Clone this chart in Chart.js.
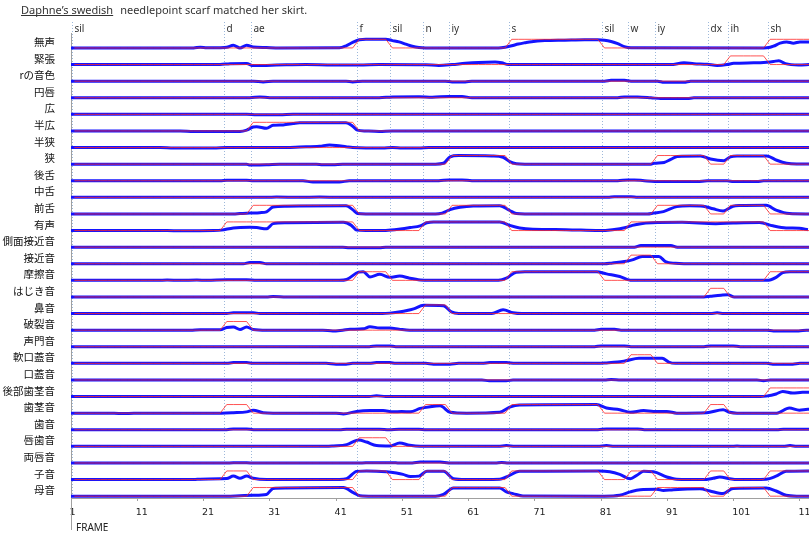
<!DOCTYPE html>
<html>
<head>
<meta charset="utf-8">
<script src="https://cdn.jsdelivr.net/npm/chart.js@4.4.1/dist/chart.umd.min.js"></script>
<style>
  html, body { margin: 0; padding: 0; background: #fff; overflow: hidden; }
  canvas { display: block; }
</style>
</head>
<body>
<canvas id="chart" width="809" height="535"></canvas>
<script>
// phonetic feature tracks for "Daphne's swedish needlepoint scarf matched her skirt."

const rowNames = ["無声", "緊張", "rの音色", "円唇", "広", "半広", "半狭", "狭", "後舌", "中舌",
  "前舌", "有声", "側面接近音", "接近音", "摩擦音", "はじき音", "鼻音", "破裂音", "声門音", "軟口蓋音",
  "口蓋音", "後部歯茎音", "歯茎音", "歯音", "唇歯音", "両唇音", "子音", "母音"];

// phoneme segments: label and first frame
const phonemes = ["sil", "d", "ae", "f", "sil", "n", "iy", "s", "sil", "w", "iy", "dx", "ih", "sh"];
const phonemeStart = [1, 24, 28, 44, 49, 54, 58, 67, 81, 85, 89, 97, 100, 106];
const lastFrame = 112;
const xTicks = [1, 11, 21, 31, 41, 51, 61, 71, 81, 91, 101, 111];

// target (red): phoneme indices where the feature is on, per row
const targetOn = [
  [3, 7, 13],          // 無声
  [12],                // 緊張
  [], [], [],          // rの音色 円唇 広
  [2],                 // 半広
  [],                  // 半狭
  [6, 10, 12],         // 狭
  [], [],              // 後舌 中舌
  [2, 6, 10, 12],      // 前舌
  [1, 2, 5, 6, 9, 10, 11, 12], // 有声
  [],                  // 側面接近音
  [9],                 // 接近音
  [3, 7, 13],          // 摩擦音
  [11],                // はじき音
  [5],                 // 鼻音
  [1],                 // 破裂音
  [],                  // 声門音
  [9],                 // 軟口蓋音
  [],                  // 口蓋音
  [13],                // 後部歯茎音
  [1, 5, 7, 11],       // 歯茎音
  [],                  // 歯音
  [3],                 // 唇歯音
  [],                  // 両唇音
  [1, 3, 5, 7, 9, 11, 13], // 子音
  [2, 6, 10, 12]       // 母音
];

// network output (blue), [frame, value]
const pred0 = [[0.5,0],[19,0],[20,0.08],[21,0.02],[23,0.03],[24,0.08],[25,0.3],[26,0],[27,0.3],[28,0.12],[30,0.05],[32,0],[41,0.02],[42,0.25],[43,0.65],[44,0.95],[45,1],[48,1],[49,0.85],[50,0.7],[51,0.45],[52,0.2],[53,0.05],[54,0],[65,0],[66,0.08],[67,0.25],[68,0.45],[69,0.6],[70,0.73],[72,0.85],[75,0.9],[78,0.95],[80,0.95],[81,0.9],[82,0.75],[83,0.5],[84,0.15],[85,0.02],[105,0],[106,0.08],[106.5,0.2],[107.5,0.55],[108.5,0.7],[109.5,0.55],[110.5,0.7],[112,0.68]]; // 無声
const pred1 = [[0.5,0],[23,0],[24.5,0.1],[27,0.12],[28,-0.12],[30,-0.1],[33,-0.03],[36,0],[40,-0.04],[44,-0.04],[47,0],[54,-0.03],[56,-0.1],[58,0],[60,0.15],[62,0.25],[64.5,0.3],[65.5,0.2],[66.5,0],[91,0],[93,0.2],[94.5,0.1],[96.5,0.03],[98,-0.1],[99.5,0],[100.5,0.15],[103.5,0.2],[105.5,0.27],[106.5,0.35],[107.3,0.45],[108.3,0.1],[110.3,-0.05],[112,0]]; // 緊張
const pred2 = [[0.5,0],[28,0],[29.5,-0.1],[31,0],[42,0],[43,-0.1],[44.5,0],[57,0],[58,-0.1],[60,-0.1],[61,0],[81,0],[82,0.1],[84,0.1],[85,0],[89,0],[90,-0.13],[93,-0.13],[94,0],[112,0]]; // rの音色
const pred3 = [[0.5,0],[27.5,0],[29,0.1],[30.5,0],[47,0],[49,0.1],[53,0.12],[55,0.06],[57.5,0.15],[59.5,0.15],[61,0],[83,0],[84,0.1],[86,0.1],[88,0],[89.5,-0.1],[93.5,-0.1],[94.5,0],[112,0]]; // 円唇
const pred4 = [[0.5,0],[27,0],[28.5,-0.06],[32,-0.06],[34,0],[112,0]]; // 広
const pred5 = [[0.5,0],[17,0],[19,-0.05],[26,-0.05],[27,0.1],[28,0.45],[28.5,0.5],[30,0.3],[31,0.65],[32.5,0.7],[34,0.85],[35,0.95],[42,0.95],[43,0.55],[43.7,0.1],[45,0],[47,-0.05],[49,0],[112,0]]; // 半広
const pred6 = [[0.5,0],[14,0],[16,-0.05],[22,-0.05],[24,0],[33,0],[35,0.06],[38,0.15],[39.5,0.3],[40.5,0.25],[42,0.1],[43,0],[45,-0.05],[47.5,-0.05],[49,0],[50.5,-0.05],[53,-0.05],[54.5,0],[112,0]]; // 半狭
const pred7 = [[0.5,0],[27,0],[27.5,-0.1],[30,-0.08],[32,0],[37.5,0],[38.5,-0.08],[40,-0.08],[41.5,0],[55.5,0],[56.7,0.1],[57.7,0.85],[59,1],[64,0.95],[65.7,0.8],[66.7,0.3],[67.7,0.05],[69,0],[88,0],[88.5,0.1],[90,0.2],[91,0.55],[92,0.9],[95.5,0.95],[97,0.6],[99,0.4],[100,0.85],[101,0.95],[105.5,0.95],[107,0.45],[108.5,0.1],[110,0.02],[112,0.03]]; // 狭
const pred8 = [[0.5,0],[23,0],[24,0.05],[27,0.05],[28,0],[35.5,0],[37,-0.15],[41,-0.15],[42.5,0],[56,0],[57.5,0.1],[59.5,0.1],[61,0],[83,0],[84.5,0.1],[85.5,0.1],[87,0],[89.5,-0.1],[95,-0.1],[96.5,0],[99.5,0],[100.5,-0.1],[104,-0.1],[105,0],[112,0]]; // 後舌
const pred9 = [[0.5,0],[30,0],[31.5,0.05],[35,0],[38,0.05],[41,0],[81.5,0],[82.5,0.07],[85,0.07],[86,0],[112,0]]; // 中舌
const pred10 = [[0.5,0],[25,0],[26,0.05],[27.5,0.1],[29,0.15],[30,0.25],[31,0.8],[33,0.9],[42,0.95],[43,0.5],[43.7,0.05],[45,0],[55.5,0],[56.5,0.1],[57.7,0.5],[59.2,0.77],[61.2,0.92],[65.2,0.95],[66.7,0.4],[67.7,0.05],[69,0],[87.5,0],[88.4,0.1],[89.9,0.27],[91.9,0.85],[93.9,0.95],[95.9,0.9],[97.4,0.6],[98.9,0.35],[100.4,0.9],[101.5,0.97],[105.4,1],[106.9,0.45],[108.9,0.05],[112,0]]; // 前舌
const pred11 = [[0.5,0],[15,0],[17,-0.03],[22,0],[23.2,0.05],[25,0.3],[27.5,0.37],[28.5,0.35],[30,0.2],[31,0.8],[33,0.9],[41.6,0.95],[42.8,0.6],[43.6,0.05],[45,0],[48,0.02],[50.2,0.18],[51.7,0.35],[53.2,0.55],[54.2,0.9],[55.2,1],[65.2,1],[66.7,0.6],[68.2,0.3],[70.2,0.15],[75.2,0.1],[80.2,0],[82.2,0.1],[84.2,0.35],[85.2,0.6],[86.5,0.8],[88.2,0.9],[92.7,0.95],[97.8,0.8],[100.4,0.87],[104.4,0.93],[106.4,0.55],[108.4,0.3],[110.4,0.27],[111.7,0.1]]; // 有声
const pred12 = [[0.5,0],[41.5,0],[42.5,-0.08],[47,-0.08],[48,0],[85.5,0],[86.5,0.18],[91,0.18],[92,0],[112,0]]; // 側面接近音
const pred13 = [[0.5,0],[26.5,0],[27.5,0.15],[29,0.15],[30,0],[81,0],[82.2,0.1],[84,0.25],[85.2,0.45],[86.7,0.85],[89.2,0.85],[90.2,0.25],[91.7,0.05],[93,0],[112,0]]; // 接近音
const pred14 = [[0.5,0],[13.5,0],[15,0.05],[17,0],[19.5,0.05],[21,0],[24,0.07],[27,0.07],[28.5,0],[41,0],[42.1,0.1],[43.9,0.95],[44.6,1],[45.6,0.4],[47.1,0.7],[48.6,0.35],[50.1,0.5],[51.6,0.25],[53.2,0.05],[54.5,0],[65,0],[66.2,0.25],[67.7,0.95],[69,1],[79.8,1],[81.3,0.75],[83.3,0.45],[84.9,0.02],[105.5,0],[106.9,0.35],[107.9,0.9],[109,1],[112,1]]; // 摩擦音
const pred15 = [[0.5,0],[30,0],[31,0.04],[33,0],[96,0],[97,0.08],[98.6,0.2],[99.6,0.25],[100.6,0],[112,0]]; // はじき音
const pred16 = [[0.5,0],[24,0],[25,0.1],[28,0.1],[29,0],[47.5,0],[48.6,0.05],[50.2,0.2],[51.2,0.35],[52.2,0.55],[53.7,0.95],[56.7,0.9],[57.9,0.2],[59,0.02],[64,0],[65.7,0.45],[67.2,0.1],[68.5,0],[97,0],[98,0.08],[99,0],[112,0]]; // 鼻音
const pred17 = [[0.5,0],[18.5,0],[20,0.05],[23,0.05],[24,0.3],[25,0.36],[26,0.08],[27,0.38],[28,0.08],[30,0],[38.5,0],[40,-0.1],[41.5,0],[42.6,0.1],[44.6,0.15],[45.6,0.4],[47.1,0.25],[48.6,0.25],[50,0.12],[51.6,0],[79.5,0],[80.5,0.1],[82.5,0.1],[83.5,0],[105.5,0],[106.5,-0.1],[110.3,-0.1],[111.5,0],[112,0]]; // 破裂音
const pred18 = [[0.5,0],[45.5,0],[46.6,0.1],[48.6,0.1],[49.5,0],[79.5,0],[80.5,0.1],[84,0.1],[85,0],[96,0],[97,0.1],[100.4,0.1],[101.5,0],[112,0]]; // 声門音
const pred19 = [[0.5,0],[24,0],[25,0.1],[27,0.1],[28,0],[39,0],[40.5,-0.1],[42,-0.1],[43,0],[45.5,0],[46.6,0.1],[48.6,0.1],[49.5,0],[54,0],[55.2,-0.1],[57.7,-0.1],[59,0],[62.5,0],[63.7,0.1],[66.2,0.1],[67.5,0],[80,0],[81.3,0.05],[83,0.15],[84.2,0.3],[86.2,0.58],[89.7,0.6],[90.7,0.15],[91.7,0],[105.5,0],[106.4,-0.1],[109.4,-0.1],[110.5,0],[112,0]]; // 軟口蓋音
const pred20 = [[0.5,0],[62.5,0],[63.6,-0.1],[66.2,-0.1],[67.2,0],[81,0],[82,0.05],[83.5,0],[104,0],[105,-0.1],[106,0],[112,0]]; // 口蓋音
const pred21 = [[0.5,0],[45.5,0],[46.6,0.1],[48,0],[104.5,0],[105.4,0.05],[106.9,0.3],[107.9,0.6],[109.4,0.4],[110.9,0.5],[112,0.5]]; // 後部歯茎音
const pred22 = [[0.5,0],[7,0],[8.4,-0.05],[10,0],[23.2,0],[25,0.05],[27,0.15],[28,0.35],[29.5,0.05],[31,0],[40.5,0],[41.6,-0.1],[43.6,0.2],[45.6,0.3],[47.6,0.3],[49.1,0.15],[50.4,0.18],[51.7,0.15],[53.2,0.55],[54.7,0.75],[56.2,0.85],[57.7,0.1],[60.2,0],[65.2,0.1],[66.7,0.7],[68.2,0.95],[79.8,1],[81.3,0.6],[83.3,0.4],[84.9,0.1],[86.9,0.3],[88.4,0.2],[90.4,0.2],[91.9,0],[96.4,0.05],[98.9,0.4],[99.9,0.1],[101,0],[107,0],[108.9,0.6],[110.4,0.35],[111.7,0.45],[112,0.45]]; // 歯茎音
const pred23 = [[0.5,0],[24,0],[25,0.1],[27,0.1],[28,0],[41,0],[42.1,0.05],[47,0.05],[48.5,0],[50,0.05],[53,0.05],[54,0],[80,0],[81.3,0.1],[86,0.1],[87,0],[107,0],[108,0.06],[112,0.06]]; // 歯音
const pred24 = [[0.5,0],[39,0],[40.1,0.05],[42.1,0.2],[43.9,0.75],[45.1,0.5],[46.6,0.1],[48.6,0.05],[50.1,0.38],[51.6,0.12],[53.2,0],[65,0],[66.2,0.1],[67.5,0],[80,0],[81.3,0.1],[82.5,0],[100,0],[101,0.05],[102,0],[108,0],[109,0.1],[110,0],[112,0]]; // 唇歯音
const pred25 = [[0.5,0],[24,0],[26,0.04],[28,0],[44,0],[46,0.04],[49,0.04],[50,0],[52,0],[53.2,0.1],[56.2,0.1],[57.5,0],[64.5,0],[65.5,0.06],[66.5,0],[112,0]]; // 両唇音
const pred26 = [[0.5,0],[19,0],[20,0.05],[23,0.1],[24,0.12],[25,0.4],[26,0.15],[27,0.4],[28,0.15],[30,0],[41,0],[42.1,0.1],[43.6,0.95],[45.1,1],[48.1,0.9],[49.6,0.75],[50.6,0.6],[51.7,0.35],[53,0.4],[54.2,0.95],[56.7,0.95],[58.2,0.1],[60,0],[65.2,0.05],[66.2,0.3],[68.2,0.95],[80.2,1],[81.8,0.9],[83.3,0.6],[84.9,0.1],[85.9,0.5],[86.9,0.95],[88.4,0.9],[90.4,0.3],[91.9,0.05],[95.9,0],[97.4,0.15],[98.4,0.3],[99.9,0.1],[101,0],[105.4,0.05],[106.9,0.4],[108.4,0.95],[112,1]]; // 子音
const pred27 = [[0.5,0],[24,0],[26,0.05],[28,0.1],[30,0.2],[31,0.9],[33,0.95],[41.6,1],[43.1,0.4],[44.1,0.05],[46,0],[55.5,0],[56.7,0.2],[58.2,0.95],[65.2,0.95],[66.2,0.5],[67.2,0.3],[68.7,0.02],[81,0],[83.3,0.1],[84.9,0.5],[86.4,0.75],[88.9,0.8],[89.9,0.65],[91.4,0.75],[95.4,0.85],[96.9,0.6],[98.9,0.3],[100.4,0.9],[105.4,0.95],[106.9,0.6],[108.4,0.1],[110,0],[112,0]]; // 母音

const predicted = [pred0, pred1, pred2, pred3, pred4, pred5, pred6, pred7, pred8, pred9,
  pred10, pred11, pred12, pred13, pred14, pred15, pred16, pred17, pred18, pred19,
  pred20, pred21, pred22, pred23, pred24, pred25, pred26, pred27];

// each row is one unit tall on the y scale, value 1 rises AMP of a row
const AMP = 0.52;

function segmentAt(frame) {
  let seg = 0;
  phonemeStart.forEach((s, i) => { if (frame >= s) seg = i; });
  return seg;
}

const frames = [];
for (let f = 1; f <= lastFrame; f++) frames.push(f);

const datasets = [];
rowNames.forEach((name, i) => {
  datasets.push({
    label: name + " target",
    data: frames.map(f => ({ x: f, y: i - (targetOn[i].includes(segmentAt(f)) ? 1 : 0) * AMP })),
    borderColor: "rgba(255, 40, 40, 0.8)",
    borderWidth: 1,
    pointRadius: 0,
    order: 0
  });
  datasets.push({
    label: name,
    data: predicted[i].map(p => ({ x: p[0], y: i - p[1] * AMP })),
    borderColor: "rgb(20, 20, 255)",
    borderWidth: 3,
    pointRadius: 0,
    cubicInterpolationMode: "monotone",
    order: 1
  });
});

// phoneme boundaries, labels, title and the FRAME caption
const overlay = {
  id: "overlay",
  beforeDatasetsDraw(chart) {
    const { ctx, chartArea, scales: { x } } = chart;
    ctx.save();
    ctx.strokeStyle = "#9db8da";
    ctx.lineWidth = 1;
    ctx.setLineDash([1, 2]);
    phonemeStart.forEach(s => {
      const px = Math.round(x.getPixelForValue(s - 0.4)) + 0.5;
      ctx.beginPath();
      ctx.moveTo(px, 22);
      ctx.lineTo(px, chartArea.bottom);
      ctx.stroke();
    });
    ctx.restore();
  },
  afterDraw(chart) {
    const { ctx, chartArea, scales: { x } } = chart;
    ctx.save();
    ctx.fillStyle = "#333";
    ctx.font = "10px 'Noto Sans'";
    ctx.textBaseline = "alphabetic";
    phonemes.forEach((p, i) => {
      const px = Math.round(x.getPixelForValue(phonemeStart[i] - 0.4));
      ctx.fillText(p, px + 2.5, 31.5);
    });

    // title, first words underlined
    ctx.font = "11px 'Noto Sans'";
    ctx.fillStyle = "#333";
    const first = "Daphne’s swedish";
    const w = ctx.measureText(first).width;
    ctx.fillText(first, 21, 14);
    ctx.fillRect(21, 15, w, 1);
    ctx.fillText("needlepoint scarf matched her skirt.", 21 + w + 7, 14);

    // left axis runs down past the frame axis
    ctx.strokeStyle = "#a0a0a0";
    ctx.lineWidth = 1;
    ctx.beginPath();
    ctx.moveTo(chartArea.left + 0.5, chartArea.bottom);
    ctx.lineTo(chartArea.left + 0.5, 530);
    ctx.stroke();

    ctx.fillStyle = "#222";
    ctx.font = "10px 'Noto Sans'";
    ctx.fillText("FRAME", 76, 531);
    ctx.restore();
  }
};

const ctx = document.getElementById("chart").getContext("2d");
const chart = new Chart(ctx, {
  type: "line",
  data: { datasets: datasets },
  plugins: [overlay],
  options: {
    responsive: false,
    devicePixelRatio: 1,
    animation: false,
    events: [],
    layout: { padding: { top: 33, left: 0, right: 0, bottom: 0 } },
    plugins: {
      legend: { display: false },
      tooltip: { enabled: false }
    },
    scales: {
      x: {
        type: "linear",
        min: 0.5,
        max: 111.86,
        // tick sits at the left edge of the frame's cell
        afterBuildTicks: scale => { scale.ticks = xTicks.map(n => ({ value: n - 0.5 })); },
        afterFit: scale => { scale.height = 37; scale.paddingLeft = 0; scale.paddingRight = 0; },
        grid: { display: true, drawOnChartArea: false, drawTicks: true, tickLength: 3, color: "#a0a0a0" },
        border: { display: true, color: "#a0a0a0" },
        ticks: {
          autoSkip: false,
          maxRotation: 0,
          align: "start",
          labelOffset: -1.5,
          padding: 6,
          color: "#222",
          font: { family: "'DejaVu Sans'", size: 9.5 },
          callback: value => String(Math.round(value + 0.5))
        }
      },
      y: {
        type: "linear",
        reverse: true,
        min: -0.9,
        max: 27.11,
        afterBuildTicks: scale => { scale.ticks = rowNames.map((n, i) => ({ value: i - 0.36 })); },
        afterFit: scale => { scale.width = 71; scale.paddingTop = 0; scale.paddingBottom = 0; },
        grid: { display: false },
        border: { display: true, color: "#a0a0a0" },
        ticks: {
          autoSkip: false,
          padding: 8,
          color: "#111",
          font: { family: "'Noto Sans CJK JP'", size: 10.5 },
          callback: (value, index) => rowNames[index]
        }
      }
    }
  }
});
</script>
</body>
</html>
